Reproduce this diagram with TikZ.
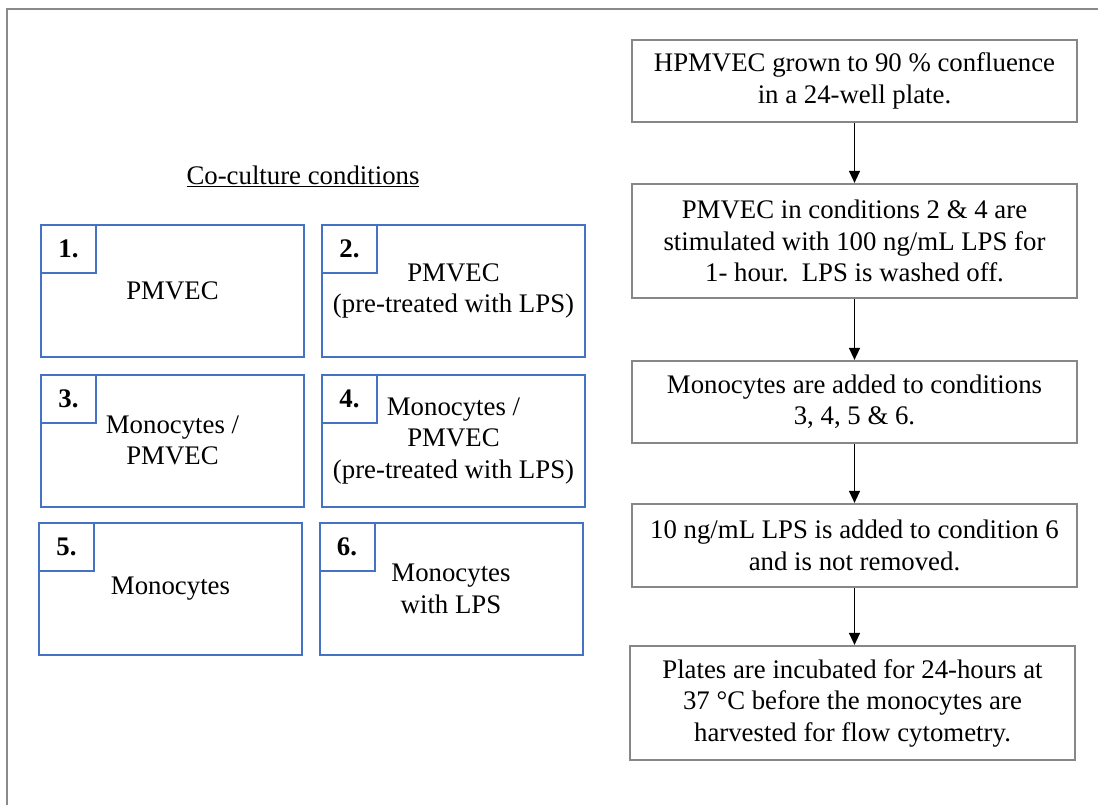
\documentclass[tikz,border=0pt]{standalone}
\usepackage{fontspec}
\setmainfont{Liberation Serif}
\usetikzlibrary{arrows.meta}
\definecolor{condblue}{HTML}{4472C4}
\definecolor{boxgray}{HTML}{878787}
\definecolor{framegray}{HTML}{8A8A8A}
\begin{document}
\begin{tikzpicture}[x=1pt,y=-1pt,
  txt/.style={font=\fontsize{26.8}{31.5}\selectfont, align=center},
  cond/.style={txt, draw=condblue, line width=2pt, rectangle, inner sep=0pt,
               minimum width=263pt, minimum height=132pt},
  numbox/.style={draw=condblue, line width=2pt, rectangle, inner sep=0pt,
               minimum width=55pt, minimum height=48pt,
               font=\fontsize{26.8}{31.5}\selectfont\bfseries, anchor=north west},
  stepbox/.style={txt, draw=boxgray, line width=2.2pt, rectangle, inner sep=0pt,
               minimum width=445pt},
  flow/.style={line width=1.3pt, -{Triangle[width=11pt,length=12pt]}}
  ]
\useasboundingbox (0,0) rectangle (1098,805);
\draw[framegray, line width=2.5pt] (7,830) -- (7,9) -- (1120,9);

% title
\node[txt, anchor=base] (title) at (303,185) {\underline{Co-culture conditions}};

% condition boxes
\node[cond] (c1) at (172.5,291) {PMVEC};
\node[cond] (c2) at (453.5,291) {PMVEC\\(pre-treated with LPS)};
\node[cond] (c3) at (172.5,440.5) {Monocytes /\\PMVEC};
\node[cond] (c4) at (453.5,441) {Monocytes /\\PMVEC\\(pre-treated with LPS)};
\node[cond] (c5) at (170.5,589) {Monocytes};
\node[cond] (c6) at (451,589) {Monocytes\\with LPS};

\node[numbox] (n1) at (c1.north west) {1.};
\node[numbox] (n2) at (c2.north west) {2.};
\node[numbox] (n3) at (c3.north west) {3.};
\node[numbox] (n4) at (c4.north west) {4.};
\node[numbox] (n5) at (c5.north west) {5.};
\node[numbox] (n6) at (c6.north west) {6.};

% flow chart
\node[stepbox, minimum height=82pt] (s1) at (854.5,81) {HPMVEC grown to 90 \% confluence\\in a 24-well plate.};
\node[stepbox, minimum height=114pt] (s2) at (854.5,241) {PMVEC in conditions 2 \& 4 are\\stimulated with 100 ng/mL LPS for\\1- hour.\ \ LPS is washed off.};
\node[stepbox, minimum height=82pt] (s3) at (854.5,402) {Monocytes are added to conditions\\3, 4, 5 \& 6.};
\node[stepbox, minimum height=83pt] (s4) at (854.5,545.5) {10 ng/mL LPS is added to condition 6\\and is not removed.};
\node[stepbox, minimum height=114pt] (s5) at (852.5,703) {Plates are incubated for 24-hours at\\37 °C before the monocytes are\\harvested for flow cytometry.};

\draw[flow] (s1.south) -- (s2.north);
\draw[flow] (s2.south) -- (s3.north);
\draw[flow] (s3.south) -- (s4.north);
\draw[flow] (s4.south) -- (s4.south |- s5.north);
\end{tikzpicture}
\end{document}
